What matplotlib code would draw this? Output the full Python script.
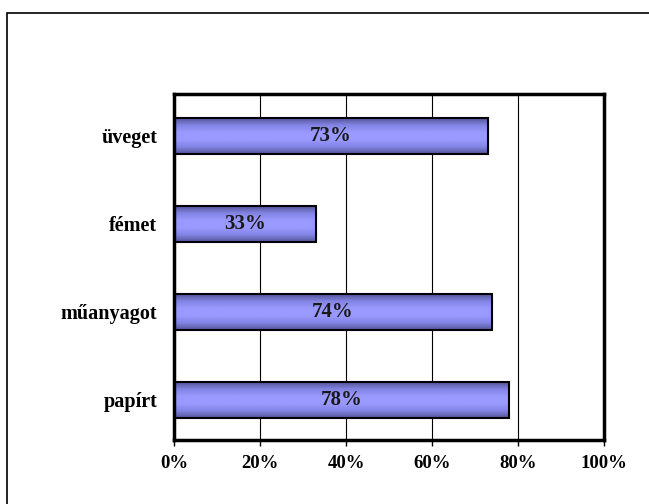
import numpy as np
import matplotlib
matplotlib.use("Agg")
import matplotlib.pyplot as plt
from matplotlib.patches import Rectangle
from matplotlib.colors import LinearSegmentedColormap

# data, top to bottom as shown
categories = ["üveget", "fémet", "műanyagot", "papírt"]
values = [73, 33, 74, 78]
xticks = [0, 20, 40, 60, 80, 100]

plt.rcParams['font.family'] = ['Liberation Serif', 'DejaVu Serif']
plt.rcParams['font.weight'] = 'bold'

fig = plt.figure(figsize=(6.49, 5.04), dpi=100)
fig.patches.append(Rectangle((7/649, -0.05), 1.1, 1-13/504+0.05, transform=fig.transFigure,
                             fill=False, edgecolor='black', linewidth=1.2))
ax = fig.add_axes([174/649, 64/504, 430/649, 346/504])

n = len(categories)
ypos = np.arange(n)[::-1]
h = 0.4
cmap = LinearSegmentedColormap.from_list('bar', ['#55559a', '#8585e6', '#9999ff', '#9999ff', '#8585e6', '#55559a'])
grad = np.linspace(0, 1, 64).reshape(-1, 1)

for y, v in zip(ypos, values):
    ax.imshow(grad, extent=(0, v, y - h/2, y + h/2), aspect='auto', cmap=cmap, zorder=2)
    ax.add_patch(Rectangle((0, y - h/2), v, h, fill=False, edgecolor='black', linewidth=1.5, zorder=3))
    ax.text(v/2, y, f"{v}%", ha='center', va='center', fontsize=15, fontweight='bold', color='#1a1a1a', zorder=4)

ax.set_xlim(0, 100)
ax.set_ylim(-0.455, n - 0.523)
ax.set_xticks(xticks)
ax.set_xticklabels([f"{t}%" for t in xticks], fontsize=13.5, fontweight='bold')
ax.set_yticks(ypos)
ax.set_yticklabels(categories, fontsize=14.5, fontweight='bold')
ax.tick_params(axis='y', length=0, pad=12)
ax.tick_params(axis='x', length=4, width=1, direction='out', pad=7)
ax.xaxis.grid(True, color='black', linewidth=0.8, zorder=1)
ax.set_axisbelow(True)
for s in ax.spines.values():
    s.set_linewidth(2.5)

fig.savefig("out.png", dpi=100)
